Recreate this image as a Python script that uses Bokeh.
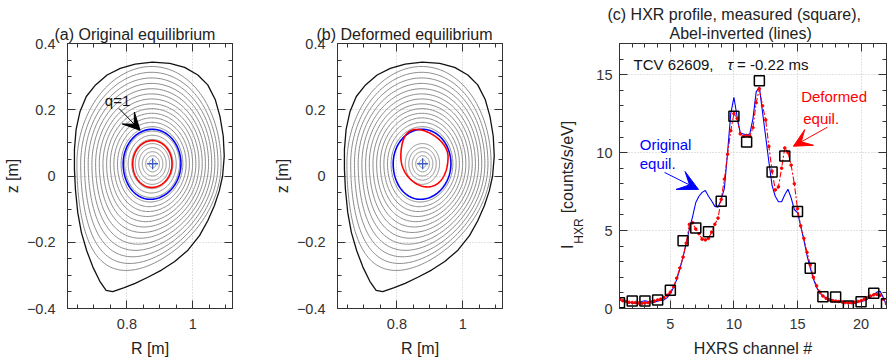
import numpy as np
from bokeh.plotting import figure
from bokeh.layouts import row
from bokeh.models import LinearAxis, FixedTicker, Label, Arrow, VeeHead, Range1d, Title
from bokeh.embed import file_html
from bokeh.resources import INLINE

FONT = "Liberation Sans"
TXT = "#222222"
AX = "#333333"
NB = "\u00a0"

# ---------------- panel (c) data ----------------
channels = list(range(1, 23))
measured = [0.37, 0.48, 0.48, 0.55, 1.17, 4.35, 5.17, 4.93, 6.88, 12.34, 10.68,
            14.61, 8.75, 9.78, 6.22, 2.59, 0.76, 0.74, 0.16, 0.44, 0.98, 0.31]
# Abel-inverted profiles sampled every quarter channel (1 ... 22)
orig_vals = [0.55, 0.50, 0.45, 0.40, 0.35, 0.33, 0.35, 0.45, 0.50, 0.45, 0.38, 0.40,
             0.48, 0.52, 0.55, 0.70, 0.95, 1.35, 1.85, 2.55, 3.30, 4.20, 5.10, 5.90,
             6.80, 7.20, 7.45, 7.57, 7.20, 6.90, 6.55, 6.50, 7.00, 7.70, 10.00, 12.50,
             13.55, 12.30, 11.25, 11.20, 11.15, 11.20, 12.20, 13.90, 14.20, 12.60, 11.00, 9.40,
             7.90, 7.20, 6.85, 6.85, 7.30, 7.65, 7.10, 6.35, 6.15, 5.30, 4.40, 3.40,
             2.60, 1.90, 1.35, 1.00, 0.80, 0.68, 0.60, 0.55, 0.50, 0.48, 0.45, 0.40,
             0.35, 0.33, 0.35, 0.40, 0.45, 0.50, 0.60, 0.75, 0.90, 1.05, 1.10, 0.70,
             0.20]
deformed_vals = [0.60, 0.50, 0.45, 0.40, 0.38, 0.38, 0.35, 0.33, 0.35, 0.38, 0.42, 0.48,
                 0.55, 0.60, 0.70, 0.85, 1.05, 1.40, 1.95, 2.60, 3.30, 4.20, 5.40, 5.50,
                 5.10, 4.80, 4.45, 4.40, 4.50, 4.90, 5.40, 5.80, 7.00, 8.30, 9.90, 11.40,
                 12.50, 12.20, 11.20, 11.05, 11.10, 11.05, 11.60, 13.20, 14.10, 13.00, 12.10, 10.40,
                 8.80, 7.60, 7.80, 9.00, 10.30, 10.00, 9.20, 8.00, 6.40, 5.30, 4.50, 3.60,
                 2.80, 2.00, 1.45, 1.05, 0.80, 0.65, 0.55, 0.50, 0.48, 0.45, 0.42, 0.38,
                 0.36, 0.37, 0.40, 0.45, 0.50, 0.60, 0.70, 0.80, 0.88, 0.90, 0.85, 0.60,
                 0.30]
abel_ch = np.linspace(1, 22, len(orig_vals))

# ---------------- panels (a)/(b) data ----------------
boundary_R = [1.090, 1.095, 1.092, 1.082, 1.068, 1.045, 1.015, 0.975, 0.930, 0.877,
              0.825, 0.780, 0.740, 0.705, 0.677, 0.658, 0.646, 0.641, 0.641, 0.644,
              0.651, 0.662, 0.678, 0.697, 0.718, 0.737, 0.757, 0.790, 0.825, 0.865,
              0.905, 0.945, 0.985, 1.020, 1.045, 1.065, 1.080, 1.090]
boundary_z = [0.000, 0.060, 0.120, 0.180, 0.230, 0.275, 0.305, 0.328, 0.340, 0.344,
              0.338, 0.325, 0.305, 0.275, 0.240, 0.195, 0.140, 0.080, 0.020, -0.040,
              -0.110, -0.170, -0.225, -0.275, -0.318, -0.345, -0.349, -0.338, -0.324, -0.305,
              -0.284, -0.258, -0.224, -0.180, -0.135, -0.090, -0.045, 0.000]
axis_R, axis_z = 0.878, 0.037
edge_a = 0.2275                      # minor radius of the last closed surface
gray_r = [0.0104, 0.0208, 0.0312, 0.0416, 0.0520, 0.0624, 0.0728, 0.0832, 0.0936, 0.1040,
          0.1144, 0.1248, 0.1352, 0.1456, 0.1560, 0.1664, 0.1768, 0.1872, 0.1976, 0.2080, 0.2184]
gray_kept_deformed = [1, 1, 1, 1, 1, 0, 0, 0, 1, 1, 1, 1, 1, 1, 1, 1, 1, 1, 1, 1, 1]
q1_r = 0.0875
red_orig_r = 0.0595
# deformed red surface: centre R, centre z, half width, upper/lower elongation, triangularity
red_def = dict(Rc=0.8835, Zc=0.0575, a=0.0715, ku=1.16, kl=1.266, du=0.335, dl=-0.13)


def shaped(Rc, Zc, a, ku, kl, du, dl, n=180):
    th = np.linspace(0, 2 * np.pi, n)
    s = np.sin(th)
    up = s >= 0
    k = np.where(up, ku, kl)
    d = np.where(up, du, dl)
    return Rc + a * np.cos(th + d * s), Zc + k * a * s


def surface(r):
    rho2 = (r / edge_a) ** 2
    return shaped(axis_R - 0.012 * rho2, axis_z, r, 1.16 + 0.20 * rho2,
                  1.18 + 0.32 * rho2, -0.04 * rho2, 0.35 * rho2)


def style_axis(ax, size="14.5px", standoff=10):
    ax.major_tick_in = 8
    ax.major_tick_out = 0
    ax.minor_tick_in = 4
    ax.minor_tick_out = 0
    ax.axis_line_color = AX
    ax.major_tick_line_color = AX
    ax.minor_tick_line_color = AX
    ax.major_label_text_font = FONT
    ax.major_label_text_font_size = size
    ax.major_label_text_color = AX
    ax.major_label_standoff = standoff
    ax.axis_label_text_font = FONT
    ax.axis_label_text_font_size = "16px"
    ax.axis_label_text_font_style = "normal"
    ax.axis_label_text_color = TXT


def make_fig(xr, yr, fw, fh, left, right, xt, xmin, yt, ymin, xover, yover,
             ystand, xstand):
    p = figure(frame_width=fw, frame_height=fh, x_range=Range1d(*xr), y_range=Range1d(*yr),
               min_border_left=left, min_border_right=right, min_border_top=43,
               min_border_bottom=54, toolbar_location=None, output_backend="svg",
               title=None)
    p.background_fill_color = "white"
    p.border_fill_color = "white"
    p.outline_line_color = AX
    p.outline_line_width = 1
    tx = FixedTicker(ticks=xt, minor_ticks=xmin)
    ty = FixedTicker(ticks=yt, minor_ticks=ymin)
    xa = p.below[0]
    ya = p.left[0]
    xa.ticker = tx
    ya.ticker = ty
    xa.major_label_overrides = xover
    ya.major_label_overrides = yover
    style_axis(xa, standoff=xstand)
    style_axis(ya, standoff=ystand)
    for loc, tk in (("above", tx), ("right", ty)):
        ax = LinearAxis(ticker=tk)
        style_axis(ax, size="0px", standoff=0)
        ax.major_label_text_alpha = 0
        p.add_layout(ax, loc)
    for g in (p.xgrid, p.ygrid):
        g.grid_line_color = "#c4c4c4"
        g.grid_line_dash = "1 2"
        g.grid_line_width = 1
    p.xgrid.ticker = tx
    p.ygrid.ticker = ty
    return p, xa, ya


def add_title(p, text, offset, standoff, valign):
    p.add_layout(Title(text=text, align="left", offset=offset, standoff=standoff,
                       vertical_align=valign,
                       text_font=FONT, text_font_size="16px", text_font_style="normal",
                       text_color=TXT), "above")


def add_label(p, x, y, text, size="15px", color="#111111", style="normal"):
    p.add_layout(Label(x=x, y=y, text=text, text_font=FONT, text_font_size=size,
                       text_color=color, text_align="left", text_baseline="middle",
                       text_font_style=style))


def label_axis(p, text, size, standoff):
    ax = LinearAxis(ticker=FixedTicker(ticks=[], minor_ticks=[]))
    ax.axis_line_color = None
    ax.major_tick_line_color = None
    ax.minor_tick_line_color = None
    ax.major_tick_out = 0
    ax.minor_tick_out = 0
    ax.major_label_standoff = 0
    ax.major_label_text_font_size = "0px"
    ax.axis_label = text
    ax.axis_label_text_font = FONT
    ax.axis_label_text_font_size = size
    ax.axis_label_text_font_style = "normal"
    ax.axis_label_text_color = TXT
    ax.axis_label_standoff = standoff
    p.add_layout(ax, "left")


eq_xt = [0.8, 1.0]
eq_xmin = [0.65, 0.7, 0.75, 0.8, 0.85, 0.9, 0.95, 1.0, 1.05, 1.1]
eq_yt = [-0.4, -0.2, 0, 0.2, 0.4]
eq_ymin = [-0.4, -0.35, -0.3, -0.25, -0.2, -0.15, -0.1, -0.05, 0, 0.05, 0.1, 0.15,
           0.2, 0.25, 0.3, 0.35, 0.4]

panels = []
for idx, (title, left, right, title_dx) in enumerate(
        [("(a) Original equilibrium", 67, 18, -13), ("(b) Deformed equilibrium", 87, 18, -21)]):
    p, xa, ya = make_fig((0.62, 1.12), (-0.4, 0.4), 165, 265, left, right, eq_xt, eq_xmin,
                         eq_yt, eq_ymin, {1: "1"}, {0: "0"}, 12, 10)
    xa.axis_label = "R [m]"
    xa.axis_label_standoff = 8
    ya.axis_label = "z [m]"
    ya.axis_label_standoff = 3
    xs, ys = [], []
    for r, keep in zip(gray_r, gray_kept_deformed):
        if idx == 1 and not keep:
            continue
        R, Z = surface(r)
        xs.append(R)
        ys.append(Z)
    p.multi_line(xs, ys, line_color="#8c8c8c", line_width=1)
    p.line(boundary_R, boundary_z, line_color="#111111", line_width=1.3)
    bR, bZ = surface(q1_r)
    p.line(bR, bZ, line_color="#0000ff", line_width=1.6)
    if idx == 0:
        rR, rZ = surface(red_orig_r)
    else:
        rR, rZ = shaped(**red_def)
    p.line(rR, rZ, line_color="#ff0000", line_width=1.6)
    p.scatter([axis_R], [axis_z], marker="cross", size=11, line_color="#3a5bc7", line_width=1.3)
    add_title(p, title, title_dx, 2, "bottom")
    if idx == 0:
        add_label(p, 0.733, 0.229, "q=1")
        p.add_layout(Arrow(end=VeeHead(size=17, fill_color="black", line_color="black"),
                           x_start=0.776, y_start=0.204, x_end=0.840, y_end=0.138,
                           line_color="black", line_width=1))
    panels.append(p)

# ---------------- panel (c) ----------------
pc, xc, yc = make_fig((1, 22), (0, 17), 267, 265, 99, 3, [5, 10, 15, 20], list(range(1, 23)),
                      [0, 5, 10, 15], list(range(0, 18)), {}, {}, 7, 10)
xc.axis_label = "HXRS channel #"
xc.axis_label_standoff = 8
pc.line(abel_ch, orig_vals, line_color="#0000ff", line_width=1.1)
pc.line(abel_ch, deformed_vals, line_color="#ff0000", line_width=1.1, line_dash="6 2 2 2")
pc.scatter(abel_ch, deformed_vals, marker="circle", size=2.6, color="#ff0000")
pc.scatter(channels, measured, marker="square", size=10, fill_alpha=0,
           line_color="black", line_width=1.5)
add_title(pc, "Abel-inverted (lines)", 50, 0, "top")
add_title(pc, "(c) HXR profile, measured (square),", -12, 0, "top")
add_label(pc, 2.1, 15.63, "TCV 62609,")
add_label(pc, 9.49, 15.63, "\u03c4", style="italic")
add_label(pc, 10.25, 15.63, "= -0.22 ms")
add_label(pc, 2.59, 10.53, "Original", color="#0000ff")
add_label(pc, 2.59, 9.31, "equil.", color="#0000ff")
add_label(pc, 15.29, 13.58, "Deformed", color="#ff0000")
add_label(pc, 15.45, 12.19, "equil.", color="#ff0000")
pc.add_layout(Arrow(end=VeeHead(size=20, fill_color="#0000ff", line_color="#0000ff"),
                    x_start=4.54, y_start=8.73, x_end=7.21, y_end=7.64,
                    line_color="#0000ff", line_width=1))
pc.add_layout(Arrow(end=VeeHead(size=18, fill_color="#ff0000", line_color="#ff0000"),
                    x_start=17.35, y_start=11.63, x_end=14.68, y_end=10.41,
                    line_color="#ff0000", line_width=1))
# y-axis label "I_HXR [counts/s/eV]": subscript drawn by a second, thin label axis
label_axis(pc, "HXR" + NB * 33, "12px", 8)
label_axis(pc, "I" + NB * 7 + "[counts/s/eV]" + NB * 4, "16px", -7)
panels.append(pc)

layout = row(*panels)
open("out.html", "w").write(file_html(layout, INLINE))
